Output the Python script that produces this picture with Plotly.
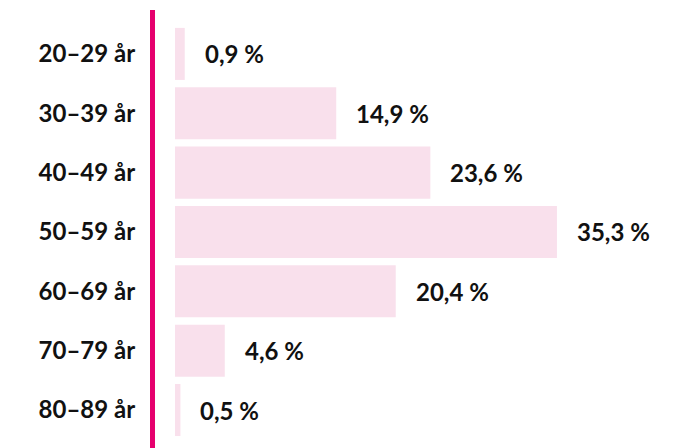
import plotly.graph_objects as go

categories = ["20–29 år", "30–39 år", "40–49 år", "50–59 år", "60–69 år", "70–79 år", "80–89 år"]
values = [0.9, 14.9, 23.6, 35.3, 20.4, 4.6, 0.5]
labels = ["0,9 %", "14,9 %", "23,6 %", "35,3 %", "20,4 %", "4,6 %", "0,5 %"]

FONT = "Lato"
px_per_unit = 10.82
plot_left = 155
zero_px = 175
width = 685
xmin = -(zero_px - plot_left) / px_per_unit
xmax = xmin + (width - plot_left) / px_per_unit

fig = go.Figure()
fig.add_trace(go.Bar(
    y=categories, x=values, orientation="h",
    marker=dict(color="#f9e0ec", line=dict(width=0)),
    hoverinfo="skip",
))
for c, v, t in zip(categories, values, labels):
    fig.add_annotation(x=v, y=c, text=t, showarrow=False, xanchor="left",
                       xshift=18, font=dict(family=FONT, size=24, color="#111111", weight="bold"))

fig.update_layout(
    width=685, height=448,
    margin=dict(l=plot_left, r=0, t=10, b=0),
    paper_bgcolor="white", plot_bgcolor="white",
    bargap=0.123, showlegend=False,
    xaxis=dict(range=[xmin, xmax], visible=False, fixedrange=True),
    yaxis=dict(range=[6.64, -0.74], showgrid=False, zeroline=False,
               showline=True, linecolor="#e6006e", linewidth=5,
               ticks="", ticklabelstandoff=10,
               tickfont=dict(family=FONT, size=24, color="#111111", weight="bold")),
)
fig.write_html("out.html")
